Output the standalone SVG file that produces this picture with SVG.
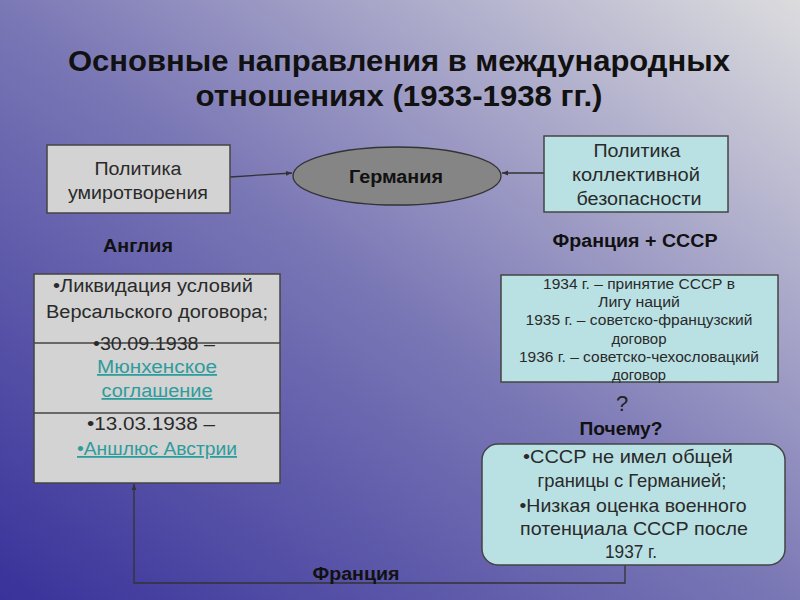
<svg xmlns="http://www.w3.org/2000/svg" width="800" height="600" viewBox="0 0 800 600">
<defs>
<linearGradient id="bg" x1="0" y1="1" x2="1" y2="0">
<stop offset="0" stop-color="#38329a"/>
<stop offset="0.5" stop-color="#7b78b6"/>
<stop offset="1" stop-color="#dcdcde"/>
</linearGradient>
<marker id="arr" viewBox="0 0 10 10" refX="10" refY="5" markerWidth="6" markerHeight="6" orient="auto" markerUnits="userSpaceOnUse">
<path d="M0,1 L10,5 L0,9 z" fill="#333"/>
</marker>
<style>
.t{font-family:"Liberation Sans",Arial,sans-serif;text-anchor:middle}
.b{font-weight:bold;fill:#111}
.g{fill:#d3d3d3;stroke:#444;stroke-width:1.5}
.c{fill:#b9e1e4;stroke:#444;stroke-width:1.5}
.d{fill:#2a2a2a}
.l{fill:#2f9c9c;text-decoration:underline}
.con{fill:none;stroke:#333;stroke-width:1.3}
</style>
</defs>
<rect width="800" height="600" fill="url(#bg)"/>
<g id="title">
<text class="t b" x="399" y="71" font-size="29" textLength="662" lengthAdjust="spacingAndGlyphs">Основные направления в международных</text>
<text class="t b" x="399" y="106" font-size="29" textLength="407" lengthAdjust="spacingAndGlyphs">отношениях (1933-1938 гг.)</text>
</g>
<g id="connectors">
<line class="con" x1="230" y1="177" x2="292" y2="173" marker-end="url(#arr)"/>
<line class="con" x1="544" y1="173" x2="502" y2="173" marker-end="url(#arr)"/>
<polyline class="con" points="625,565 625,583 134,583 134,484" marker-end="url(#arr)"/>
</g>
<g id="appeasement">
<rect class="g" x="47" y="145" width="183" height="68"/>
<text class="t d" x="138" y="175" font-size="18" textLength="87" lengthAdjust="spacingAndGlyphs">Политика</text>
<text class="t d" x="138" y="199" font-size="18" textLength="140" lengthAdjust="spacingAndGlyphs">умиротворения</text>
</g>
<g id="germany">
<ellipse cx="397" cy="176" rx="104" ry="29" fill="#858585" stroke="#333" stroke-width="1.3"/>
<text class="t b" x="396" y="183" font-size="18" textLength="94" lengthAdjust="spacingAndGlyphs">Германия</text>
</g>
<g id="collective">
<rect class="c" x="544" y="136" width="184" height="76"/>
<text class="t d" x="637" y="157" font-size="18" textLength="87" lengthAdjust="spacingAndGlyphs">Политика</text>
<text class="t d" x="636" y="181" font-size="18" textLength="128" lengthAdjust="spacingAndGlyphs">коллективной</text>
<text class="t d" x="639" y="205" font-size="18" textLength="125" lengthAdjust="spacingAndGlyphs">безопасности</text>
</g>
<g id="england-label">
<text class="t b" x="138" y="252" font-size="18" textLength="70" lengthAdjust="spacingAndGlyphs">Англия</text>
</g>
<g id="france-ussr-label">
<text class="t b" x="635" y="247" font-size="18" textLength="165" lengthAdjust="spacingAndGlyphs">Франция + СССР</text>
</g>
<g id="england-box">
<rect class="g" x="34" y="274" width="246" height="209"/>
<line x1="34" y1="343" x2="280" y2="343" stroke="#444" stroke-width="1.5"/>
<line x1="34" y1="413" x2="280" y2="413" stroke="#444" stroke-width="1.5"/>
<text class="t d" x="153" y="292" font-size="18" textLength="200" lengthAdjust="spacingAndGlyphs">•Ликвидация условий</text>
<text class="t d" x="157" y="318" font-size="18" textLength="222" lengthAdjust="spacingAndGlyphs">Версальского договора;</text>
<text class="t d" x="154" y="350" font-size="18" textLength="122" lengthAdjust="spacingAndGlyphs">•30.09.1938 –</text>
<text class="t l" x="157" y="373" font-size="18" textLength="120" lengthAdjust="spacingAndGlyphs"> Мюнхенское</text>
<text class="t l" x="157" y="397" font-size="18" textLength="111" lengthAdjust="spacingAndGlyphs">соглашение</text>
<text class="t d" x="151" y="430" font-size="18" textLength="128" lengthAdjust="spacingAndGlyphs">•13.03.1938 –</text>
<text class="t l" x="157" y="455" font-size="18" textLength="160" lengthAdjust="spacingAndGlyphs">•Аншлюс Австрии</text>
</g>
<g id="france-ussr-box">
<rect class="c" x="501" y="275" width="277" height="107"/>
<text class="t d" x="639" y="289" font-size="14" textLength="192" lengthAdjust="spacingAndGlyphs">1934 г. – принятие СССР в</text>
<text class="t d" x="639" y="307" font-size="14" textLength="82" lengthAdjust="spacingAndGlyphs">Лигу наций</text>
<text class="t d" x="639" y="325" font-size="14" textLength="227" lengthAdjust="spacingAndGlyphs">1935 г. – советско-французский</text>
<text class="t d" x="639" y="344" font-size="14" textLength="55" lengthAdjust="spacingAndGlyphs">договор</text>
<text class="t d" x="639" y="362" font-size="14" textLength="240" lengthAdjust="spacingAndGlyphs">1936 г. – советско-чехословацкий</text>
<text class="t d" x="639" y="380" font-size="14" textLength="54" lengthAdjust="spacingAndGlyphs">договор</text>
</g>
<g id="question">
<text class="t" x="622" y="411" font-size="22" fill="#222">?</text>
<text class="t b" x="621" y="435" font-size="18" textLength="83" lengthAdjust="spacingAndGlyphs">Почему?</text>
</g>
<g id="why-box">
<rect class="c" x="482" y="444" width="303" height="121" rx="16"/>
<text class="t d" x="628" y="463" font-size="19" textLength="210" lengthAdjust="spacingAndGlyphs">•СССР не имел общей</text>
<text class="t d" x="632" y="487" font-size="19" textLength="189" lengthAdjust="spacingAndGlyphs">границы с Германией;</text>
<text class="t d" x="633" y="512" font-size="19" textLength="227" lengthAdjust="spacingAndGlyphs">•Низкая оценка военного</text>
<text class="t d" x="634" y="535" font-size="19" textLength="228" lengthAdjust="spacingAndGlyphs">потенциала СССР после</text>
<text class="t d" x="631" y="558" font-size="19" textLength="52" lengthAdjust="spacingAndGlyphs">1937 г.</text>
</g>
<g id="france-label">
<text class="t b" x="356" y="580" font-size="18" textLength="87" lengthAdjust="spacingAndGlyphs">Франция</text>
</g>
</svg>
